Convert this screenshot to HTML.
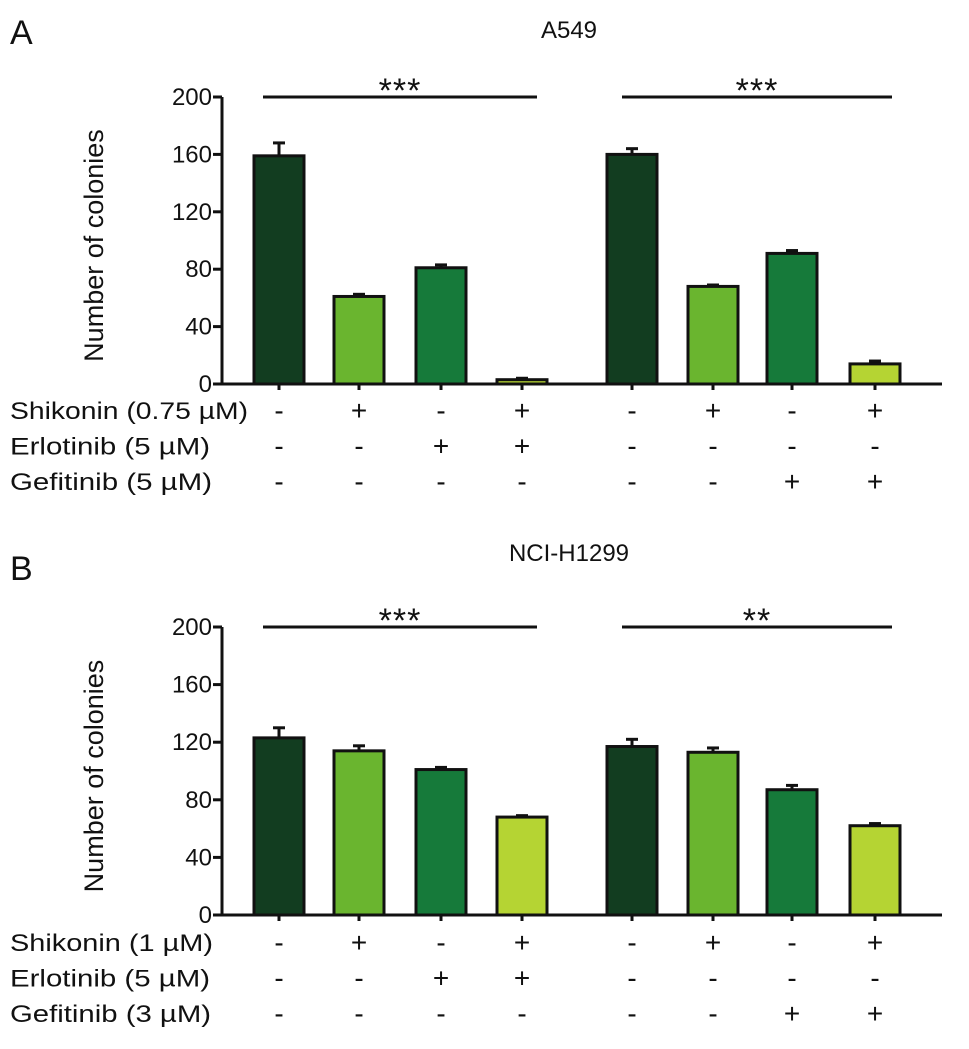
<!DOCTYPE html>
<html><head><meta charset="utf-8"><style>
body{margin:0;background:#fff;}
svg text{font-family:"Liberation Sans",sans-serif;fill:#111;}
</style></head><body>
<svg id="fig" width="969" height="1044" viewBox="0 0 969 1044" xmlns="http://www.w3.org/2000/svg"></svg>
<script>
const yTicks = [0, 40, 80, 120, 160, 200];
const valuesA = [159, 61, 81, 3, 160, 68, 91, 14];
const errorsA = [9, 1.5, 2, 1, 4, 1, 2, 2];
const valuesB = [123, 114, 101, 68, 117, 113, 87, 62];
const errorsB = [7, 3.5, 1.5, 1, 5, 3, 3, 1.5];
const barColors = ["#123d20", "#6ab52f", "#167a3a", "#b5d433"];
const rowsA = [["Shikonin (0.75 µM)", "-+-+-+-+"], ["Erlotinib  (5 µM)", "--++----"], ["Gefitinib (5 µM)", "------++"]];
const rowsB = [["Shikonin (1 µM)", "-+-+-+-+"], ["Erlotinib (5 µM)", "--++----"], ["Gefitinib (3 µM)", "------++"]];
const sigA = ["***", "***"];
const sigB = ["***", "**"];

const NS = "http://www.w3.org/2000/svg";
const svg = document.getElementById("fig");
function mk(tag, attrs, parent) {
  const e = document.createElementNS(NS, tag);
  for (const k in attrs) e.setAttribute(k, attrs[k]);
  (parent || svg).appendChild(e);
  return e;
}
const centers = [279, 359, 441, 522, 632, 713, 792, 875];
const barW = 50;

function panel(cfg) {
  const g = mk("g", {});
  
  
  const y = v => cfg.y0 - (v / 200) * (cfg.y0 - cfg.y200);
  let t = mk("text", {x: 10, y: cfg.letterY, "font-size": 34}, g);
  t.textContent = cfg.letter;
  
  
  t = mk("text", {x: 569, y: cfg.titleY, "font-size": 24, "text-anchor": "middle"}, g);
  t.textContent = cfg.title;
  
  
  let ax = mk("line", {x1: 222, y1: y(200), x2: 222, y2: y(0), stroke: "#111", "stroke-width": 3}, g);
  
  
  ax = mk("line", {x1: 220.5, y1: y(0), x2: 942, y2: y(0), stroke: "#111", "stroke-width": 3}, g);
  
  
  yTicks.forEach(v => {
    const l = mk("line", {x1: 213, y1: y(v), x2: 222, y2: y(v), stroke: "#111", "stroke-width": 3}, g);
    
    
    const tt = mk("text", {x: 212, y: y(v) + 8, "font-size": 24, "text-anchor": "end"}, g);
    tt.textContent = v;
    
    
  });
  const yt = mk("text", {x: 0, y: 0, "font-size": 27, "text-anchor": "middle", transform: `translate(103 ${(y(0) + y(200)) / 2 + 5}) rotate(-90)`}, g);
  yt.textContent = "Number of colonies";
  
  
  cfg.values.forEach((v, i) => {
    const cx = centers[i];
    const e = cfg.errors[i];
    const el = mk("line", {x1: cx, y1: y(v + e), x2: cx, y2: y(v), stroke: "#111", "stroke-width": 3}, g);
    
    
    const ec = mk("line", {x1: cx - 6, y1: y(v + e), x2: cx + 6, y2: y(v + e), stroke: "#111", "stroke-width": 3}, g);
    
    
    const b = mk("rect", {x: cx - barW / 2, y: y(v), width: barW, height: y(0) - y(v), fill: barColors[i % 4], stroke: "#111", "stroke-width": 3}, g);
    
    
    const tk = mk("line", {x1: cx, y1: y(0), x2: cx, y2: y(0) + 6, stroke: "#111", "stroke-width": 3}, g);
    
    
  });
  [[263, 537], [622, 892]].forEach((s, k) => {
    const l = mk("line", {x1: s[0], y1: y(200), x2: s[1], y2: y(200), stroke: "#111", "stroke-width": 3}, g);
    
    
    const st = mk("text", {x: (s[0] + s[1]) / 2, y: y(200) + 5, "font-size": 34, "text-anchor": "middle", "letter-spacing": 1}, g);
    st.textContent = cfg.sig[k];
    
    
  });
  cfg.rows.forEach((r, ri) => {
    const ry = cfg.rowY + ri * 35.5;
    const lt = mk("text", {x: 10, y: ry, "font-size": 24, "textLength": cfg.labelW[ri], "lengthAdjust": "spacingAndGlyphs"}, g);
    lt.textContent = r[0];
    
    
    r[1].split("").forEach((c, i) => {
      const s = mk("text", {x: centers[i], y: ry + 1, "font-size": 28, "text-anchor": "middle"}, g);
      s.textContent = c;
      
      
    });
  });
}
panel({name: "panel-a-a549", letter: "A", letterY: 44, title: "A549", titleY: 38, y0: 384, y200: 97, values: valuesA, errors: errorsA, sig: sigA, rows: rowsA, rowY: 419, labelW: [238, 200, 202]});
panel({name: "panel-b-nci-h1299", letter: "B", letterY: 580, title: "NCI-H1299", titleY: 561, y0: 915, y200: 627, values: valuesB, errors: errorsB, sig: sigB, rows: rowsB, rowY: 951, labelW: [203, 200, 201]});
</script>
</body></html>
